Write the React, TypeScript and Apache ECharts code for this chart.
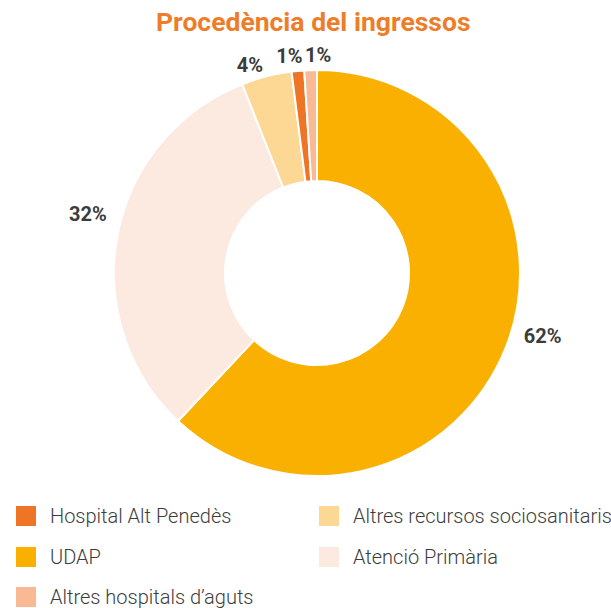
import React, { useEffect, useRef } from "react";
import * as echarts from "echarts";

const categories = [
  "UDAP",
  "Atenció Primària",
  "Altres recursos sociosanitaris",
  "Hospital Alt Penedès",
  "Altres hospitals d’aguts",
];
const values = [62, 32, 4, 1, 1];
const colors = ["#F9B000", "#FCE9DF", "#FDD794", "#EE7526", "#F8B994"];
const legendOrder = [
  "Hospital Alt Penedès",
  "UDAP",
  "Altres hospitals d’aguts",
  "Altres recursos sociosanitaris",
  "Atenció Primària",
];
const legendPos = [
  [14, 504],
  [14, 545],
  [14, 585],
  [317, 504],
  [317, 545],
];
// label nudges (dx, dy) per slice, to match the reference placement
const labelNudge = [
  [0, -17],
  [8, -18],
  [5, 2],
  [11, -1],
  [26, -1],
];

export default function App() {
  const ref = useRef<HTMLDivElement>(null);
  useEffect(() => {
    document.body.style.margin = "0";
    const chart = echarts.init(ref.current!, null, { renderer: "svg" });
    chart.setOption({
      animation: false,
      title: {
        text: "Procedència del ingressos",
        left: 156,
        top: 8,
        padding: 0,
        textStyle: {
          color: "#EE7D2A",
          fontSize: 26.5,
          fontWeight: "bold",
          fontFamily: "Roboto",
        },
      },
      legend: legendOrder.map((name, i) => ({
        data: [name],
        left: legendPos[i][0],
        top: legendPos[i][1],
        padding: 0,
        itemWidth: 22,
        itemHeight: 22,
        itemGap: 10,
        icon: "rect",
        selectedMode: false,
        textStyle: {
          color: "#3d3d3d",
          fontSize: 20,
          fontWeight: 300,
          fontFamily: "Roboto",
          padding: [0, 0, 0, 8],
        },
      })),
      series: [
        {
          type: "pie",
          center: [317, 273],
          radius: [92, 203],
          startAngle: 90,
          clockwise: true,
          avoidLabelOverlap: false,
          itemStyle: { borderColor: "#fff", borderWidth: 2 },
          label: {
            show: true,
            position: "outside",
            formatter: "{c}%",
            color: "#3c3c3c",
            fontSize: 20,
            fontWeight: "bold",
            fontFamily: "Roboto",
          },
          labelLine: { show: false, length: 14, length2: 0 },
          labelLayout: (p: any) => ({
            hideOverlap: false,
            dx: labelNudge[p.dataIndex][0],
            dy: labelNudge[p.dataIndex][1],
          }),
          emphasis: { disabled: true },
          data: categories.map((name, i) => ({
            name,
            value: values[i],
            itemStyle: { color: colors[i] },
          })),
        },
      ],
    });
    return () => chart.dispose();
  }, []);
  return <div ref={ref} style={{ width: 611, height: 608 }} />;
}
